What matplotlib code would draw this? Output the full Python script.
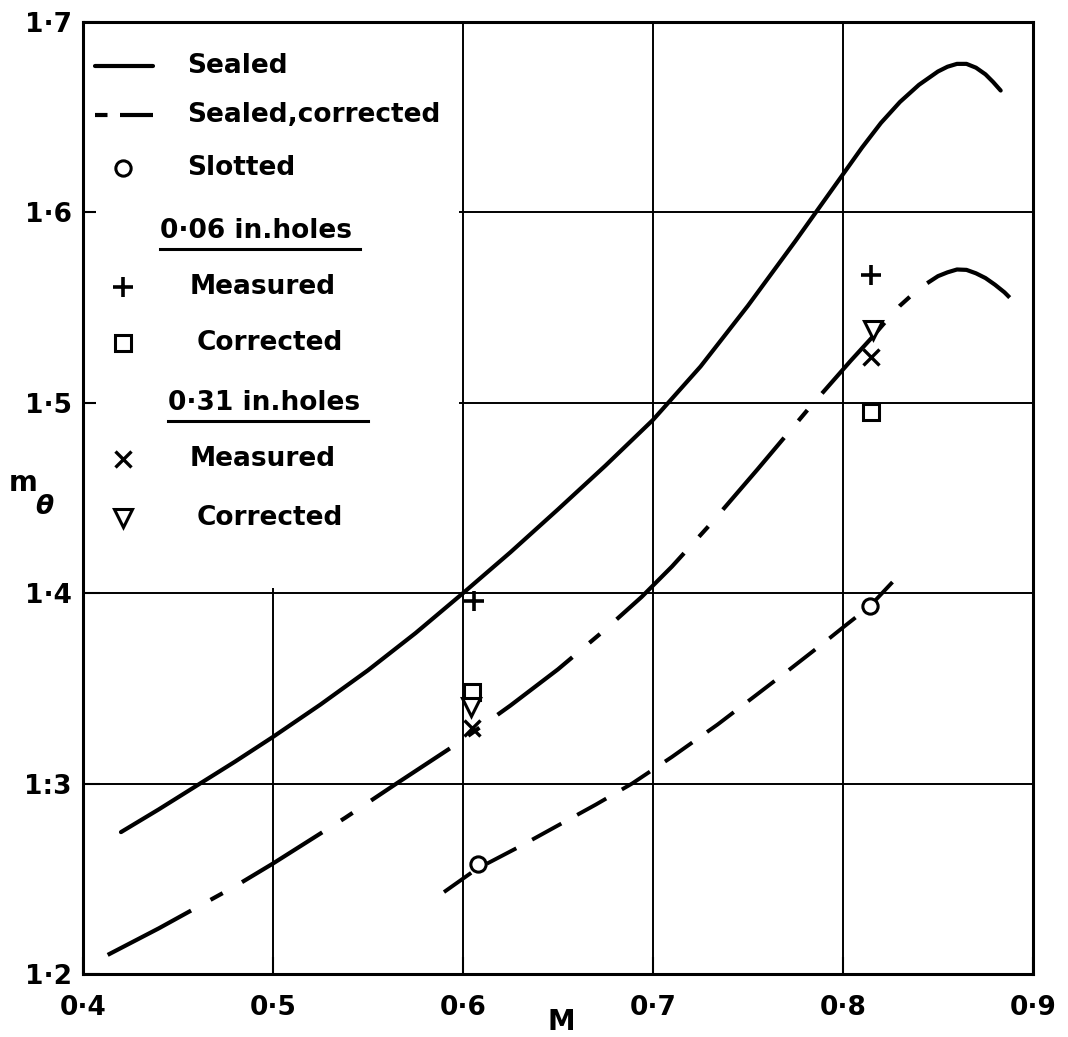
import matplotlib
matplotlib.use("Agg")
import matplotlib.pyplot as plt
from matplotlib.patches import Rectangle

plt.rcParams['font.family'] = ['DejaVu Sans']
plt.rcParams['lines.scale_dashes'] = False

# sealed tunnel (full line)
sealed_M = [0.42, 0.44, 0.46, 0.48, 0.50, 0.525, 0.55, 0.575, 0.60, 0.625, 0.65,
            0.675, 0.70, 0.725, 0.75, 0.775, 0.80, 0.81, 0.82, 0.83, 0.84, 0.85,
            0.855, 0.86, 0.865, 0.87, 0.875, 0.879, 0.883]
sealed_m = [1.2745, 1.2865, 1.299, 1.3115, 1.3245, 1.3415, 1.3595, 1.379, 1.400, 1.4215, 1.444,
            1.467, 1.491, 1.519, 1.551, 1.585, 1.620, 1.634, 1.647, 1.658, 1.667, 1.674,
            1.6765, 1.678, 1.678, 1.676, 1.6725, 1.6685, 1.664]

# sealed tunnel, corrected (chain line)
corr_M = [0.413, 0.44, 0.46, 0.48, 0.50, 0.538, 0.565, 0.597, 0.625, 0.65, 0.675,
          0.694, 0.71, 0.73, 0.755, 0.782, 0.804, 0.815, 0.821, 0.83, 0.84, 0.85,
          0.855, 0.86, 0.865, 0.87, 0.875, 0.88, 0.885, 0.889]
corr_m = [1.210, 1.224, 1.235, 1.246, 1.258, 1.282, 1.300, 1.321, 1.341, 1.360, 1.381,
          1.398, 1.414, 1.436, 1.465, 1.497, 1.522, 1.534, 1.541, 1.551, 1.560, 1.5665,
          1.5685, 1.570, 1.5698, 1.568, 1.5655, 1.562, 1.558, 1.554]

# slotted tunnel (dashed line and test points)
slot_M = [0.590, 0.607, 0.63, 0.65, 0.67, 0.689, 0.71, 0.734, 0.755, 0.772, 0.79,
          0.80, 0.814, 0.83]
slot_m = [1.243, 1.255, 1.267, 1.278, 1.289, 1.300, 1.314, 1.331, 1.347, 1.360, 1.374,
          1.382, 1.393, 1.410]
slot_pts_M = [0.608, 0.814]
slot_pts_m = [1.258, 1.393]

# perforated walls, 0.06 in. holes
h06_meas_M = [0.606, 0.815]
h06_meas_m = [1.396, 1.567]
h06_corr_M = [0.605, 0.815]
h06_corr_m = [1.348, 1.495]

# perforated walls, 0.31 in. holes
h31_meas_M = [0.605, 0.815]
h31_meas_m = [1.329, 1.524]
h31_corr_M = [0.604, 0.816]
h31_corr_m = [1.340, 1.538]

xticks = [0.4, 0.5, 0.6, 0.7, 0.8, 0.9]
xlabels = ['0·4', '0·5', '0·6', '0·7', '0·8', '0·9']
yticks = [1.2, 1.3, 1.4, 1.5, 1.6, 1.7]
ylabels = ['1·2', '1:3', '1·4', '1·5', '1·6', '1·7']

solid = dict(color='k', lw=3.0, solid_capstyle='round')
chain = dict(color='k', lw=3.0, linestyle=(0, (68, 16, 10, 16)), dash_capstyle='butt')
chain_key = dict(color='k', lw=3.0, linestyle=(0, (9, 9, 80)), dash_capstyle='butt')
dashed = dict(color='k', lw=2.8, linestyle=(0, (24, 13)), dash_capstyle='butt')
circ = dict(marker='o', ms=11, mfc='white', mec='k', mew=2.2, ls='none')
plus = dict(marker='+', ms=15, mec='k', mew=2.6, ls='none')
square = dict(marker='s', ms=12, mfc='white', mec='k', mew=2.2, ls='none')
cross = dict(marker='x', ms=11, mec='k', mew=2.4, ls='none')
tri = dict(marker='v', ms=13, mfc='white', mec='k', mew=2.2, ls='none')

fig = plt.figure(figsize=(10.68, 10.37), dpi=100)
ax = fig.add_axes([0.0777, 0.0608, 0.8895, 0.918])
ax.set_xlim(0.4, 0.9)
ax.set_ylim(1.2, 1.7)
ax.set_xticks(xticks, xlabels)
ax.set_yticks(yticks, ylabels)
ax.grid(True, color='k', linewidth=1.4)
ax.set_axisbelow(True)
ax.tick_params(direction='in', length=12, width=1.5, labelsize=19)
ax.tick_params(axis='x', pad=15)
ax.tick_params(axis='y', pad=8)
for lbl in ax.get_xticklabels() + ax.get_yticklabels():
    lbl.set_fontweight('bold')
for sp in ax.spines.values():
    sp.set_linewidth(2.2)

# blank panel behind the key
ax.add_patch(Rectangle((0.407, 1.4025), 0.191, 0.297, facecolor='white',
                       edgecolor='none', zorder=1))

ax.plot(sealed_M, sealed_m, zorder=2, **solid)
ax.plot(corr_M, corr_m, zorder=2, **chain)
ax.plot(slot_M, slot_m, zorder=2, **dashed)
ax.plot(slot_pts_M, slot_pts_m, zorder=3, **circ)
ax.plot(h06_meas_M, h06_meas_m, zorder=3, **plus)
ax.plot(h06_corr_M, h06_corr_m, zorder=3, **square)
ax.plot(h31_meas_M, h31_meas_m, zorder=3, **cross)
ax.plot(h31_corr_M, h31_corr_m, zorder=3, **tri)

ax.set_xlabel('M', fontsize=20, fontweight='bold')
ax.xaxis.set_label_coords(0.504, -0.036)
ax.text(-0.063, 0.516, 'm', transform=ax.transAxes, fontsize=20,
        fontweight='bold', ha='center', va='center')
ax.text(-0.041, 0.490, 'θ', transform=ax.transAxes, fontsize=19,
        fontweight='bold', style='italic', ha='center', va='center')

# key
rows = [
    ('line', solid, 'Sealed', 0.1095),
    ('line', chain_key, 'Sealed,corrected', 0.1095),
    ('mark', circ, 'Slotted', 0.1095),
    ('head', None, '0·06 in.holes', 0.081),
    ('mark', plus, 'Measured', 0.1126),
    ('mark', square, 'Corrected', 0.120),
    ('head', None, '0·31 in.holes', 0.089),
    ('mark', cross, 'Measured', 0.1126),
    ('mark', tri, 'Corrected', 0.120),
]
row_px = [66, 115, 168, 231, 287, 343, 403, 459, 518]
heads = []
for (kind, st, label, tx), py in zip(rows, row_px):
    y = (974 - py) / 952
    if kind == 'line':
        ax.plot([0.0126, 0.0737], [y, y], transform=ax.transAxes, zorder=3, **st)
    elif kind == 'mark':
        ax.plot([0.042], [y], transform=ax.transAxes, zorder=3, **st)
    t = ax.text(tx, y, label, transform=ax.transAxes, fontsize=19,
                fontweight='bold', ha='left', va='center', zorder=4)
    if kind == 'head':
        heads.append(t)

fig.canvas.draw()
inv = ax.transAxes.inverted()
for t in heads:
    bb = t.get_window_extent()
    (x0, y0), (x1, _) = inv.transform([(bb.x0, bb.y0 - 5), (bb.x1 + 8, bb.y0 - 5)])
    ax.plot([x0, x1], [y0, y0], transform=ax.transAxes, color='k', lw=2.2, zorder=4)

fig.savefig('out.png', dpi=100)
